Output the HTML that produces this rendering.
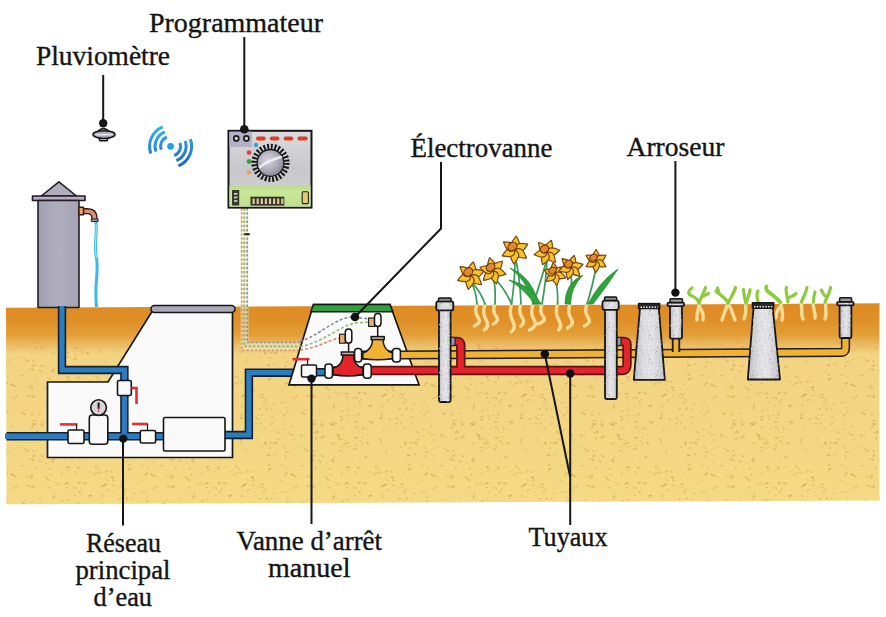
<!DOCTYPE html>
<html><head><meta charset="utf-8">
<style>
html,body{margin:0;padding:0;background:#fff;width:886px;height:617px;overflow:hidden}
svg{display:block}
text{font-family:"Liberation Serif",serif;fill:#141414;stroke:#141414;stroke-width:0.35px}
</style></head><body>
<svg width="886" height="617" viewBox="0 0 886 617">
<defs>
<linearGradient id="gnd" x1="0" y1="305" x2="0" y2="502" gradientUnits="userSpaceOnUse">
<stop offset="0" stop-color="#df8a22"/>
<stop offset="0.08" stop-color="#e09028"/>
<stop offset="0.15" stop-color="#e39e36"/>
<stop offset="0.2" stop-color="#eaba62"/>
<stop offset="0.25" stop-color="#f2d482"/>
<stop offset="1" stop-color="#f5d985"/>
</linearGradient>
<pattern id="speck" width="140" height="90" patternUnits="userSpaceOnUse"><path d="M63.3,50.4 l-1.9,1.2" stroke="#e0bc64" stroke-width="1.4" stroke-linecap="round" opacity="0.79"/><ellipse cx="86.0" cy="16.8" rx="1.41" ry="0.92" fill="#e0bc64" opacity="0.49"/><path d="M5.9,88.4 l-2.1,-1.9" stroke="#e0bc64" stroke-width="1.4" stroke-linecap="round" opacity="0.70"/><path d="M8.3,17.1 l-1.0,0.4" stroke="#dcb85a" stroke-width="1.2" stroke-linecap="round" opacity="0.76"/><path d="M32.7,26.5 l-1.3,2.0" stroke="#d8b050" stroke-width="1.8" stroke-linecap="round" opacity="0.63"/><path d="M117.6,63.7 l-2.8,0.3" stroke="#d4aa4c" stroke-width="1.1" stroke-linecap="round" opacity="0.66"/><path d="M15.1,26.2 l-3.0,-1.2" stroke="#d8b050" stroke-width="1.7" stroke-linecap="round" opacity="0.79"/><ellipse cx="65.8" cy="88.2" rx="0.80" ry="0.90" fill="#e0bc64" opacity="0.68"/><path d="M47.2,28.0 l-2.3,-1.0" stroke="#d8b050" stroke-width="1.1" stroke-linecap="round" opacity="0.75"/><path d="M8.4,71.7 l0.1,1.9" stroke="#dcb85a" stroke-width="1.6" stroke-linecap="round" opacity="0.53"/><ellipse cx="58.7" cy="34.5" rx="0.87" ry="1.08" fill="#e0bc64" opacity="0.54"/><ellipse cx="112.5" cy="27.4" rx="1.45" ry="0.89" fill="#d8b050" opacity="0.61"/><ellipse cx="14.0" cy="89.0" rx="1.21" ry="1.00" fill="#dcb85a" opacity="0.45"/><path d="M54.1,6.7 l0.6,-0.5" stroke="#dcb85a" stroke-width="1.4" stroke-linecap="round" opacity="0.55"/><ellipse cx="134.3" cy="43.5" rx="1.23" ry="0.69" fill="#d6a84e" opacity="0.60"/><ellipse cx="32.0" cy="54.9" rx="1.15" ry="0.91" fill="#dcb85a" opacity="0.70"/><ellipse cx="54.3" cy="43.4" rx="0.64" ry="1.08" fill="#d8b050" opacity="0.49"/><ellipse cx="33.4" cy="63.4" rx="1.09" ry="0.81" fill="#d4aa4c" opacity="0.81"/><ellipse cx="130.1" cy="87.9" rx="1.45" ry="0.87" fill="#dcb85a" opacity="0.67"/><path d="M39.2,82.6 l-0.5,-1.0" stroke="#dcb85a" stroke-width="1.0" stroke-linecap="round" opacity="0.48"/><ellipse cx="39.5" cy="47.8" rx="1.05" ry="0.70" fill="#dcb85a" opacity="0.51"/><path d="M102.6,47.0 l-0.2,-0.6" stroke="#dcb85a" stroke-width="1.2" stroke-linecap="round" opacity="0.82"/><path d="M4.7,53.9 l-1.1,2.0" stroke="#d8b050" stroke-width="1.1" stroke-linecap="round" opacity="0.74"/><path d="M76.5,66.3 l-0.9,0.7" stroke="#dcb85a" stroke-width="1.7" stroke-linecap="round" opacity="0.82"/><path d="M122.0,37.5 l0.7,-0.5" stroke="#d8b050" stroke-width="1.5" stroke-linecap="round" opacity="0.68"/><path d="M85.2,7.2 l1.4,-0.4" stroke="#d8b050" stroke-width="1.6" stroke-linecap="round" opacity="0.80"/><ellipse cx="81.3" cy="39.6" rx="0.63" ry="0.86" fill="#d6a84e" opacity="0.75"/><path d="M67.3,20.7 l2.5,-1.0" stroke="#d8b050" stroke-width="1.0" stroke-linecap="round" opacity="0.70"/><path d="M42.1,61.0 l-0.9,1.7" stroke="#dcb85a" stroke-width="1.4" stroke-linecap="round" opacity="0.75"/><ellipse cx="33.8" cy="36.4" rx="1.41" ry="1.05" fill="#d4aa4c" opacity="0.62"/><path d="M123.2,34.6 l-2.2,-0.6" stroke="#d6a84e" stroke-width="1.7" stroke-linecap="round" opacity="0.53"/><path d="M5.7,5.8 l-0.2,1.7" stroke="#d4aa4c" stroke-width="1.7" stroke-linecap="round" opacity="0.50"/><path d="M53.6,46.8 l0.7,-0.7" stroke="#d4aa4c" stroke-width="1.7" stroke-linecap="round" opacity="0.79"/><path d="M38.9,54.7 l1.7,-1.9" stroke="#d4aa4c" stroke-width="1.1" stroke-linecap="round" opacity="0.57"/><ellipse cx="63.7" cy="2.2" rx="0.65" ry="0.88" fill="#d4aa4c" opacity="0.51"/><path d="M62.5,56.7 l-1.8,-0.1" stroke="#d4aa4c" stroke-width="1.1" stroke-linecap="round" opacity="0.72"/><ellipse cx="1.5" cy="42.5" rx="0.95" ry="0.92" fill="#d8b050" opacity="0.56"/><ellipse cx="72.9" cy="55.3" rx="1.51" ry="0.55" fill="#dcb85a" opacity="0.77"/><path d="M130.6,65.0 l2.3,-2.0" stroke="#dcb85a" stroke-width="1.4" stroke-linecap="round" opacity="0.53"/><path d="M91.4,45.2 l-1.8,0.9" stroke="#d4aa4c" stroke-width="1.7" stroke-linecap="round" opacity="0.71"/><ellipse cx="89.8" cy="64.6" rx="0.69" ry="0.69" fill="#dcb85a" opacity="0.61"/><path d="M136.7,83.9 l-0.9,-1.7" stroke="#d4aa4c" stroke-width="1.4" stroke-linecap="round" opacity="0.79"/><path d="M77.0,69.1 l2.2,-0.3" stroke="#e0bc64" stroke-width="1.0" stroke-linecap="round" opacity="0.54"/><path d="M74.6,61.8 l2.4,0.1" stroke="#dcb85a" stroke-width="1.5" stroke-linecap="round" opacity="0.85"/><path d="M61.6,79.2 l-1.7,0.1" stroke="#d6a84e" stroke-width="1.2" stroke-linecap="round" opacity="0.48"/><path d="M102.0,57.5 l-1.5,0.7" stroke="#d6a84e" stroke-width="1.8" stroke-linecap="round" opacity="0.81"/><path d="M121.8,54.8 l0.1,0.3" stroke="#d4aa4c" stroke-width="1.2" stroke-linecap="round" opacity="0.84"/><ellipse cx="75.0" cy="45.3" rx="0.64" ry="1.05" fill="#d6a84e" opacity="0.67"/><path d="M76.2,89.0 l-2.6,0.2" stroke="#d8b050" stroke-width="1.3" stroke-linecap="round" opacity="0.73"/><ellipse cx="134.0" cy="83.1" rx="0.94" ry="1.04" fill="#d4aa4c" opacity="0.65"/><ellipse cx="131.0" cy="82.8" rx="1.22" ry="1.06" fill="#d6a84e" opacity="0.53"/><ellipse cx="18.1" cy="70.1" rx="0.61" ry="0.67" fill="#d8b050" opacity="0.51"/><ellipse cx="101.3" cy="22.0" rx="0.72" ry="0.81" fill="#e0bc64" opacity="0.74"/><path d="M35.1,17.8 l0.8,1.3" stroke="#d6a84e" stroke-width="1.5" stroke-linecap="round" opacity="0.46"/><path d="M75.3,77.7 l2.1,0.4" stroke="#d6a84e" stroke-width="1.7" stroke-linecap="round" opacity="0.66"/><path d="M32.6,66.7 l-1.1,1.7" stroke="#d4aa4c" stroke-width="1.2" stroke-linecap="round" opacity="0.58"/><path d="M139.8,79.9 l-2.5,-0.4" stroke="#dcb85a" stroke-width="1.3" stroke-linecap="round" opacity="0.50"/><ellipse cx="131.8" cy="48.9" rx="1.40" ry="0.56" fill="#dcb85a" opacity="0.70"/><ellipse cx="79.8" cy="32.2" rx="1.36" ry="0.80" fill="#d4aa4c" opacity="0.65"/><path d="M96.0,17.0 l1.6,0.5" stroke="#d8b050" stroke-width="1.7" stroke-linecap="round" opacity="0.46"/><ellipse cx="67.4" cy="17.1" rx="1.59" ry="1.06" fill="#d8b050" opacity="0.79"/><ellipse cx="13.3" cy="5.6" rx="0.99" ry="0.76" fill="#e0bc64" opacity="0.49"/><ellipse cx="49.6" cy="18.9" rx="1.44" ry="0.61" fill="#d4aa4c" opacity="0.73"/><path d="M63.6,66.5 l-2.4,1.2" stroke="#e0bc64" stroke-width="1.3" stroke-linecap="round" opacity="0.69"/><path d="M11.9,75.8 l0.5,-0.6" stroke="#e0bc64" stroke-width="1.6" stroke-linecap="round" opacity="0.53"/><path d="M39.1,10.5 l2.4,1.5" stroke="#dcb85a" stroke-width="1.6" stroke-linecap="round" opacity="0.61"/><ellipse cx="107.4" cy="68.9" rx="1.40" ry="0.68" fill="#e0bc64" opacity="0.52"/><ellipse cx="14.1" cy="79.9" rx="1.56" ry="0.68" fill="#d6a84e" opacity="0.56"/><path d="M30.2,36.6 l3.0,0.6" stroke="#dcb85a" stroke-width="1.6" stroke-linecap="round" opacity="0.61"/><ellipse cx="106.6" cy="88.2" rx="0.84" ry="0.77" fill="#d8b050" opacity="0.49"/><ellipse cx="70.7" cy="68.5" rx="0.88" ry="0.70" fill="#e0bc64" opacity="0.55"/><path d="M75.7,37.4 l0.8,1.2" stroke="#d6a84e" stroke-width="1.1" stroke-linecap="round" opacity="0.85"/><ellipse cx="83.7" cy="68.3" rx="0.99" ry="1.08" fill="#d8b050" opacity="0.83"/><ellipse cx="119.8" cy="48.8" rx="1.02" ry="0.82" fill="#d6a84e" opacity="0.83"/><path d="M83.7,32.9 l2.6,0.7" stroke="#d4aa4c" stroke-width="1.6" stroke-linecap="round" opacity="0.56"/><ellipse cx="3.8" cy="69.5" rx="1.35" ry="0.73" fill="#d6a84e" opacity="0.51"/><path d="M125.7,67.4 l-1.1,1.2" stroke="#d8b050" stroke-width="1.2" stroke-linecap="round" opacity="0.74"/><ellipse cx="100.7" cy="22.6" rx="1.41" ry="1.05" fill="#dcb85a" opacity="0.49"/><path d="M20.2,86.4 l0.7,-0.2" stroke="#dcb85a" stroke-width="1.2" stroke-linecap="round" opacity="0.50"/><ellipse cx="7.3" cy="47.5" rx="1.02" ry="0.86" fill="#d8b050" opacity="0.51"/><path d="M89.5,61.4 l3.0,1.8" stroke="#d4aa4c" stroke-width="1.6" stroke-linecap="round" opacity="0.66"/><path d="M33.4,10.2 l-0.8,-0.9" stroke="#d4aa4c" stroke-width="1.5" stroke-linecap="round" opacity="0.70"/><path d="M79.1,53.3 l-1.5,1.9" stroke="#d4aa4c" stroke-width="1.7" stroke-linecap="round" opacity="0.53"/><ellipse cx="123.0" cy="3.6" rx="0.63" ry="0.52" fill="#d8b050" opacity="0.55"/><path d="M31.2,25.0 l-1.6,1.9" stroke="#d8b050" stroke-width="1.4" stroke-linecap="round" opacity="0.51"/><path d="M49.6,30.4 l-2.6,-1.5" stroke="#e0bc64" stroke-width="1.6" stroke-linecap="round" opacity="0.79"/><ellipse cx="87.3" cy="69.2" rx="0.99" ry="0.59" fill="#dcb85a" opacity="0.75"/><ellipse cx="21.5" cy="75.3" rx="1.35" ry="1.05" fill="#d6a84e" opacity="0.67"/><path d="M59.9,33.2 l0.3,-0.3" stroke="#d8b050" stroke-width="1.5" stroke-linecap="round" opacity="0.58"/><ellipse cx="114.1" cy="41.7" rx="1.26" ry="0.55" fill="#d8b050" opacity="0.54"/><ellipse cx="42.5" cy="65.2" rx="0.96" ry="0.94" fill="#d4aa4c" opacity="0.51"/><path d="M51.3,10.6 l2.6,1.7" stroke="#e0bc64" stroke-width="1.4" stroke-linecap="round" opacity="0.82"/><ellipse cx="112.4" cy="27.4" rx="1.33" ry="0.81" fill="#d4aa4c" opacity="0.84"/><ellipse cx="11.8" cy="74.6" rx="0.99" ry="0.62" fill="#d8b050" opacity="0.61"/><ellipse cx="78.9" cy="71.7" rx="0.78" ry="0.55" fill="#d6a84e" opacity="0.69"/><ellipse cx="63.6" cy="76.9" rx="0.76" ry="0.68" fill="#d8b050" opacity="0.47"/><ellipse cx="3.1" cy="75.8" rx="1.39" ry="0.55" fill="#e0bc64" opacity="0.67"/><ellipse cx="11.4" cy="66.3" rx="0.74" ry="0.95" fill="#d4aa4c" opacity="0.70"/><path d="M90.9,22.1 l-1.0,-0.2" stroke="#dcb85a" stroke-width="1.3" stroke-linecap="round" opacity="0.81"/><path d="M113.0,30.0 l1.3,0.8" stroke="#dcb85a" stroke-width="1.7" stroke-linecap="round" opacity="0.66"/><path d="M57.5,74.4 l2.0,1.6" stroke="#d4aa4c" stroke-width="1.8" stroke-linecap="round" opacity="0.77"/><path d="M89.6,47.1 l-0.5,-1.4" stroke="#d8b050" stroke-width="1.6" stroke-linecap="round" opacity="0.62"/><ellipse cx="138.7" cy="33.8" rx="1.13" ry="0.66" fill="#dcb85a" opacity="0.61"/><ellipse cx="124.1" cy="42.4" rx="1.52" ry="1.05" fill="#d8b050" opacity="0.51"/><path d="M105.4,1.5 l-2.3,-1.3" stroke="#e0bc64" stroke-width="1.2" stroke-linecap="round" opacity="0.46"/><path d="M33.0,64.6 l2.4,-0.4" stroke="#d6a84e" stroke-width="1.7" stroke-linecap="round" opacity="0.63"/><path d="M131.2,56.4 l2.3,1.7" stroke="#d6a84e" stroke-width="1.3" stroke-linecap="round" opacity="0.55"/><path d="M76.6,86.1 l-1.7,-1.5" stroke="#e0bc64" stroke-width="1.6" stroke-linecap="round" opacity="0.61"/><path d="M136.6,71.5 l2.5,1.6" stroke="#d4aa4c" stroke-width="1.7" stroke-linecap="round" opacity="0.47"/><path d="M126.7,40.5 l-2.1,-1.4" stroke="#dcb85a" stroke-width="1.3" stroke-linecap="round" opacity="0.69"/><ellipse cx="36.3" cy="78.2" rx="1.22" ry="0.81" fill="#d6a84e" opacity="0.75"/><ellipse cx="7.4" cy="51.5" rx="1.45" ry="0.99" fill="#dcb85a" opacity="0.78"/><ellipse cx="11.5" cy="24.3" rx="1.07" ry="1.07" fill="#d6a84e" opacity="0.64"/><ellipse cx="82.1" cy="77.2" rx="0.79" ry="0.91" fill="#d4aa4c" opacity="0.53"/><path d="M109.4,39.6 l-2.1,1.3" stroke="#d8b050" stroke-width="1.2" stroke-linecap="round" opacity="0.66"/><path d="M43.5,6.8 l-2.6,-1.7" stroke="#d4aa4c" stroke-width="1.1" stroke-linecap="round" opacity="0.72"/><path d="M93.5,60.8 l-0.7,0.8" stroke="#d8b050" stroke-width="1.2" stroke-linecap="round" opacity="0.45"/><path d="M79.0,41.2 l1.3,1.6" stroke="#d8b050" stroke-width="1.1" stroke-linecap="round" opacity="0.79"/><path d="M87.9,84.4 l0.3,-1.7" stroke="#d4aa4c" stroke-width="1.2" stroke-linecap="round" opacity="0.75"/><path d="M52.7,9.9 l1.3,-0.7" stroke="#d4aa4c" stroke-width="1.7" stroke-linecap="round" opacity="0.68"/><ellipse cx="12.9" cy="12.7" rx="0.78" ry="0.62" fill="#d8b050" opacity="0.70"/><ellipse cx="5.1" cy="41.7" rx="1.59" ry="0.76" fill="#d8b050" opacity="0.46"/><path d="M108.0,30.7 l-1.8,-1.4" stroke="#e0bc64" stroke-width="1.6" stroke-linecap="round" opacity="0.51"/><ellipse cx="67.6" cy="82.9" rx="1.30" ry="1.09" fill="#d6a84e" opacity="0.61"/><path d="M110.6,59.4 l-1.9,-0.8" stroke="#d6a84e" stroke-width="1.4" stroke-linecap="round" opacity="0.55"/><path d="M78.0,18.4 l0.7,-1.4" stroke="#d4aa4c" stroke-width="1.6" stroke-linecap="round" opacity="0.78"/><path d="M126.4,49.3 l0.4,-1.2" stroke="#d4aa4c" stroke-width="1.7" stroke-linecap="round" opacity="0.66"/><path d="M139.8,63.6 l1.0,1.1" stroke="#dcb85a" stroke-width="1.1" stroke-linecap="round" opacity="0.46"/><ellipse cx="66.9" cy="37.6" rx="0.96" ry="0.78" fill="#d4aa4c" opacity="0.82"/><ellipse cx="17.4" cy="87.6" rx="1.15" ry="0.54" fill="#dcb85a" opacity="0.68"/><path d="M128.1,15.2 l1.9,-0.8" stroke="#d4aa4c" stroke-width="1.7" stroke-linecap="round" opacity="0.50"/><ellipse cx="33.7" cy="51.6" rx="0.68" ry="0.52" fill="#dcb85a" opacity="0.67"/><ellipse cx="25.2" cy="88.8" rx="1.34" ry="0.73" fill="#dcb85a" opacity="0.72"/><ellipse cx="82.9" cy="72.3" rx="0.63" ry="0.82" fill="#d8b050" opacity="0.61"/><path d="M16.6,36.5 l0.4,-0.7" stroke="#d4aa4c" stroke-width="1.5" stroke-linecap="round" opacity="0.56"/><ellipse cx="5.3" cy="60.4" rx="0.70" ry="0.71" fill="#dcb85a" opacity="0.65"/><path d="M125.5,82.2 l-0.1,2.0" stroke="#d6a84e" stroke-width="1.7" stroke-linecap="round" opacity="0.75"/><ellipse cx="119.7" cy="36.8" rx="1.54" ry="0.70" fill="#e0bc64" opacity="0.50"/><ellipse cx="72.9" cy="37.8" rx="1.33" ry="1.04" fill="#d8b050" opacity="0.47"/><path d="M102.5,53.8 l-1.5,1.4" stroke="#d4aa4c" stroke-width="1.2" stroke-linecap="round" opacity="0.80"/><path d="M122.2,87.5 l-1.6,-0.8" stroke="#e0bc64" stroke-width="1.3" stroke-linecap="round" opacity="0.66"/><path d="M33.0,6.2 l1.8,-1.1" stroke="#d4aa4c" stroke-width="1.6" stroke-linecap="round" opacity="0.62"/><path d="M79.4,81.3 l2.3,0.3" stroke="#d8b050" stroke-width="1.4" stroke-linecap="round" opacity="0.50"/><ellipse cx="41.5" cy="65.5" rx="1.50" ry="0.99" fill="#d8b050" opacity="0.48"/><ellipse cx="55.6" cy="32.1" rx="1.05" ry="0.69" fill="#d6a84e" opacity="0.57"/><path d="M45.4,12.9 l2.2,0.8" stroke="#e0bc64" stroke-width="1.0" stroke-linecap="round" opacity="0.53"/><ellipse cx="44.2" cy="77.3" rx="1.30" ry="0.84" fill="#e0bc64" opacity="0.70"/><path d="M74.6,21.3 l1.9,1.8" stroke="#d8b050" stroke-width="1.2" stroke-linecap="round" opacity="0.57"/><path d="M58.9,79.1 l-0.3,-1.7" stroke="#d4aa4c" stroke-width="1.2" stroke-linecap="round" opacity="0.83"/><ellipse cx="43.0" cy="63.9" rx="1.10" ry="0.68" fill="#dcb85a" opacity="0.74"/><path d="M38.3,72.3 l-1.6,-0.8" stroke="#d6a84e" stroke-width="1.7" stroke-linecap="round" opacity="0.69"/><path d="M93.4,24.9 l2.5,-1.7" stroke="#d8b050" stroke-width="1.7" stroke-linecap="round" opacity="0.48"/><ellipse cx="1.0" cy="52.8" rx="0.69" ry="0.67" fill="#d6a84e" opacity="0.77"/><path d="M105.8,22.1 l1.7,-1.4" stroke="#d4aa4c" stroke-width="1.7" stroke-linecap="round" opacity="0.46"/><ellipse cx="87.1" cy="82.5" rx="1.10" ry="0.61" fill="#d6a84e" opacity="0.82"/><ellipse cx="77.8" cy="58.0" rx="0.63" ry="0.67" fill="#d4aa4c" opacity="0.64"/><path d="M115.8,57.1 l0.6,1.1" stroke="#d6a84e" stroke-width="1.1" stroke-linecap="round" opacity="0.66"/><path d="M61.0,60.2 l1.7,-1.1" stroke="#d6a84e" stroke-width="1.4" stroke-linecap="round" opacity="0.76"/><ellipse cx="31.0" cy="52.2" rx="1.57" ry="0.53" fill="#e0bc64" opacity="0.53"/><ellipse cx="62.8" cy="79.3" rx="1.10" ry="0.76" fill="#d4aa4c" opacity="0.46"/><ellipse cx="61.8" cy="23.7" rx="1.17" ry="0.83" fill="#d8b050" opacity="0.81"/><ellipse cx="110.8" cy="21.4" rx="1.30" ry="0.99" fill="#dcb85a" opacity="0.62"/><path d="M103.4,70.3 l0.1,-0.5" stroke="#d6a84e" stroke-width="1.2" stroke-linecap="round" opacity="0.71"/><path d="M69.6,59.3 l-0.5,-0.5" stroke="#d6a84e" stroke-width="1.2" stroke-linecap="round" opacity="0.47"/><path d="M135.9,3.8 l-2.2,1.0" stroke="#e0bc64" stroke-width="1.4" stroke-linecap="round" opacity="0.69"/><path d="M138.0,0.3 l-0.6,-0.8" stroke="#e0bc64" stroke-width="1.3" stroke-linecap="round" opacity="0.51"/><ellipse cx="10.7" cy="3.1" rx="1.15" ry="0.65" fill="#d6a84e" opacity="0.55"/><ellipse cx="64.6" cy="83.9" rx="1.52" ry="0.63" fill="#d4aa4c" opacity="0.83"/><path d="M22.5,52.7 l2.5,1.5" stroke="#d8b050" stroke-width="1.7" stroke-linecap="round" opacity="0.68"/><ellipse cx="24.8" cy="77.4" rx="0.82" ry="0.71" fill="#dcb85a" opacity="0.76"/><path d="M25.7,49.5 l0.6,1.0" stroke="#dcb85a" stroke-width="1.4" stroke-linecap="round" opacity="0.61"/><path d="M68.6,56.4 l-0.7,-1.7" stroke="#dcb85a" stroke-width="1.6" stroke-linecap="round" opacity="0.53"/><path d="M50.8,24.7 l0.1,0.3" stroke="#d8b050" stroke-width="1.5" stroke-linecap="round" opacity="0.75"/><ellipse cx="30.5" cy="9.3" rx="0.96" ry="0.96" fill="#d8b050" opacity="0.82"/><path d="M101.3,81.6 l-0.3,1.4" stroke="#d8b050" stroke-width="1.3" stroke-linecap="round" opacity="0.79"/><ellipse cx="35.9" cy="79.1" rx="1.09" ry="0.61" fill="#d8b050" opacity="0.69"/><ellipse cx="71.9" cy="11.5" rx="1.14" ry="0.58" fill="#dcb85a" opacity="0.62"/><path d="M98.9,23.4 l-1.8,-0.9" stroke="#e0bc64" stroke-width="1.6" stroke-linecap="round" opacity="0.51"/><ellipse cx="56.7" cy="34.8" rx="0.94" ry="0.63" fill="#d4aa4c" opacity="0.57"/><path d="M5.7,2.2 l2.9,-0.8" stroke="#e0bc64" stroke-width="1.5" stroke-linecap="round" opacity="0.77"/><path d="M128.7,19.5 l2.2,-1.1" stroke="#d4aa4c" stroke-width="1.5" stroke-linecap="round" opacity="0.83"/><path d="M12.6,38.5 l2.6,-0.9" stroke="#e0bc64" stroke-width="1.6" stroke-linecap="round" opacity="0.65"/><path d="M31.0,83.3 l1.0,-1.0" stroke="#dcb85a" stroke-width="1.1" stroke-linecap="round" opacity="0.52"/><path d="M47.9,38.0 l2.1,-0.8" stroke="#dcb85a" stroke-width="1.7" stroke-linecap="round" opacity="0.55"/><path d="M126.4,10.8 l-0.7,1.4" stroke="#d8b050" stroke-width="1.2" stroke-linecap="round" opacity="0.56"/><ellipse cx="100.7" cy="79.7" rx="1.49" ry="0.84" fill="#d8b050" opacity="0.59"/><path d="M36.7,60.1 l-1.0,1.6" stroke="#dcb85a" stroke-width="1.0" stroke-linecap="round" opacity="0.60"/><path d="M99.0,19.5 l-0.5,-0.3" stroke="#d8b050" stroke-width="1.2" stroke-linecap="round" opacity="0.70"/><path d="M116.1,79.2 l1.8,0.7" stroke="#e0bc64" stroke-width="1.2" stroke-linecap="round" opacity="0.60"/><ellipse cx="69.3" cy="42.6" rx="0.83" ry="0.91" fill="#d8b050" opacity="0.53"/><path d="M32.8,0.1 l0.3,1.4" stroke="#d6a84e" stroke-width="1.6" stroke-linecap="round" opacity="0.45"/><ellipse cx="11.1" cy="74.1" rx="0.62" ry="0.98" fill="#d4aa4c" opacity="0.49"/><path d="M29.1,35.7 l-2.0,0.5" stroke="#dcb85a" stroke-width="1.4" stroke-linecap="round" opacity="0.78"/><ellipse cx="78.9" cy="33.3" rx="1.10" ry="0.89" fill="#d4aa4c" opacity="0.72"/><path d="M50.7,63.6 l2.9,1.3" stroke="#d6a84e" stroke-width="1.7" stroke-linecap="round" opacity="0.80"/><path d="M43.4,76.4 l-2.0,1.5" stroke="#d6a84e" stroke-width="1.7" stroke-linecap="round" opacity="0.64"/><path d="M7.5,22.9 l-1.5,0.5" stroke="#d6a84e" stroke-width="1.3" stroke-linecap="round" opacity="0.73"/><path d="M95.6,16.5 l0.4,-0.3" stroke="#dcb85a" stroke-width="1.6" stroke-linecap="round" opacity="0.78"/><ellipse cx="87.2" cy="74.8" rx="1.27" ry="0.64" fill="#dcb85a" opacity="0.60"/><path d="M25.9,1.2 l2.6,-0.9" stroke="#d6a84e" stroke-width="1.2" stroke-linecap="round" opacity="0.77"/><path d="M35.3,59.9 l-2.7,0.9" stroke="#e0bc64" stroke-width="1.1" stroke-linecap="round" opacity="0.85"/><path d="M5.9,25.7 l-1.0,-1.9" stroke="#d6a84e" stroke-width="1.4" stroke-linecap="round" opacity="0.50"/><ellipse cx="67.6" cy="33.6" rx="1.25" ry="0.63" fill="#d4aa4c" opacity="0.80"/><path d="M101.1,36.7 l1.2,0.2" stroke="#dcb85a" stroke-width="1.6" stroke-linecap="round" opacity="0.61"/><path d="M20.6,15.8 l2.3,-0.3" stroke="#d8b050" stroke-width="1.1" stroke-linecap="round" opacity="0.81"/><ellipse cx="123.8" cy="24.3" rx="0.87" ry="0.64" fill="#d6a84e" opacity="0.70"/><path d="M67.5,32.9 l-3.0,1.0" stroke="#d4aa4c" stroke-width="1.5" stroke-linecap="round" opacity="0.51"/><path d="M0.6,30.3 l2.2,-0.1" stroke="#dcb85a" stroke-width="1.3" stroke-linecap="round" opacity="0.53"/><ellipse cx="113.0" cy="35.6" rx="1.43" ry="0.65" fill="#d8b050" opacity="0.70"/><path d="M26.4,26.2 l2.0,0.9" stroke="#dcb85a" stroke-width="1.1" stroke-linecap="round" opacity="0.63"/><path d="M3.7,15.2 l-2.9,0.2" stroke="#d8b050" stroke-width="1.1" stroke-linecap="round" opacity="0.56"/><path d="M65.2,79.8 l0.2,1.2" stroke="#d8b050" stroke-width="1.6" stroke-linecap="round" opacity="0.45"/><path d="M103.0,35.9 l2.9,-1.6" stroke="#d6a84e" stroke-width="1.8" stroke-linecap="round" opacity="0.76"/><path d="M56.3,63.5 l-2.9,-1.4" stroke="#d4aa4c" stroke-width="1.3" stroke-linecap="round" opacity="0.70"/><path d="M101.4,45.6 l0.8,-0.6" stroke="#d4aa4c" stroke-width="1.2" stroke-linecap="round" opacity="0.60"/><ellipse cx="126.7" cy="28.9" rx="0.78" ry="0.53" fill="#d8b050" opacity="0.54"/><ellipse cx="18.3" cy="27.4" rx="0.74" ry="0.71" fill="#dcb85a" opacity="0.49"/><ellipse cx="60.3" cy="0.8" rx="1.55" ry="1.00" fill="#d6a84e" opacity="0.49"/><ellipse cx="106.6" cy="1.9" rx="0.71" ry="1.09" fill="#dcb85a" opacity="0.75"/><path d="M60.2,86.6 l2.3,1.3" stroke="#dcb85a" stroke-width="1.1" stroke-linecap="round" opacity="0.76"/><path d="M54.6,82.9 l-2.9,0.9" stroke="#dcb85a" stroke-width="1.5" stroke-linecap="round" opacity="0.66"/><path d="M127.5,5.0 l2.1,0.5" stroke="#d6a84e" stroke-width="1.4" stroke-linecap="round" opacity="0.81"/><ellipse cx="79.5" cy="10.3" rx="1.44" ry="0.80" fill="#e0bc64" opacity="0.64"/><path d="M52.6,48.7 l0.8,-0.2" stroke="#d8b050" stroke-width="1.5" stroke-linecap="round" opacity="0.46"/><path d="M83.2,83.8 l-1.5,0.5" stroke="#dcb85a" stroke-width="1.2" stroke-linecap="round" opacity="0.58"/><path d="M65.7,49.7 l2.9,-0.0" stroke="#d8b050" stroke-width="1.2" stroke-linecap="round" opacity="0.50"/><path d="M117.6,58.4 l0.1,2.0" stroke="#dcb85a" stroke-width="1.1" stroke-linecap="round" opacity="0.77"/><path d="M121.8,64.0 l-1.8,-1.9" stroke="#d4aa4c" stroke-width="1.3" stroke-linecap="round" opacity="0.59"/><ellipse cx="68.5" cy="86.6" rx="1.39" ry="0.79" fill="#dcb85a" opacity="0.67"/><path d="M33.9,72.0 l2.4,1.2" stroke="#d8b050" stroke-width="1.1" stroke-linecap="round" opacity="0.67"/></pattern>
<linearGradient id="metal" x1="0" y1="0" x2="1" y2="0">
<stop offset="0" stop-color="#bcbcc4"/>
<stop offset="0.35" stop-color="#dedee2"/>
<stop offset="0.6" stop-color="#e4e4e8"/>
<stop offset="1" stop-color="#c0c0c8"/>
</linearGradient>
<linearGradient id="tower" x1="0" y1="0" x2="1" y2="0">
<stop offset="0" stop-color="#a09eb0"/>
<stop offset="0.5" stop-color="#b0aebe"/>
<stop offset="1" stop-color="#a4a2b4"/>
</linearGradient>
<radialGradient id="knob" cx="0.4" cy="0.4" r="0.7">
<stop offset="0" stop-color="#d8d6e0"/>
<stop offset="0.6" stop-color="#a8a6b4"/>
<stop offset="1" stop-color="#807e8c"/>
</radialGradient>
<linearGradient id="face" x1="0" y1="0" x2="0" y2="1">
<stop offset="0" stop-color="#dcdce0"/>
<stop offset="0.5" stop-color="#c8c8cc"/>
<stop offset="1" stop-color="#d4d4d6"/>
</linearGradient>
<pattern id="mspeck" width="24" height="24" patternUnits="userSpaceOnUse"><rect x="14.9" y="17.8" width="0.6" height="0.9" fill="#a0a0a8" opacity="0.7"/><rect x="22.6" y="15.6" width="0.7" height="0.9" fill="#9a9aa4" opacity="0.7"/><rect x="5.9" y="13.1" width="0.8" height="1.1" fill="#a0a0a8" opacity="0.7"/><rect x="9.8" y="4.4" width="0.7" height="1.2" fill="#f4f4f8" opacity="0.7"/><rect x="3.3" y="14.8" width="0.7" height="1.3" fill="#9a9aa4" opacity="0.7"/><rect x="0.1" y="18.6" width="1.2" height="0.8" fill="#9a9aa4" opacity="0.7"/><rect x="23.1" y="12.9" width="0.7" height="1.3" fill="#9a9aa4" opacity="0.7"/><rect x="4.7" y="23.2" width="0.8" height="0.9" fill="#f4f4f8" opacity="0.7"/><rect x="4.0" y="3.5" width="0.8" height="1.2" fill="#8c8c94" opacity="0.7"/><rect x="14.1" y="14.3" width="0.6" height="0.8" fill="#ffffff" opacity="0.7"/><rect x="7.3" y="16.7" width="0.9" height="1.1" fill="#9a9aa4" opacity="0.7"/><rect x="1.4" y="23.4" width="1.3" height="0.9" fill="#8c8c94" opacity="0.7"/><rect x="9.7" y="13.2" width="0.9" height="1.0" fill="#f4f4f8" opacity="0.7"/><rect x="0.2" y="1.1" width="1.0" height="1.3" fill="#9a9aa4" opacity="0.7"/><rect x="2.9" y="5.9" width="0.8" height="0.8" fill="#f4f4f8" opacity="0.7"/><rect x="12.6" y="18.6" width="1.0" height="1.1" fill="#8c8c94" opacity="0.7"/><rect x="8.8" y="7.1" width="1.3" height="0.7" fill="#f4f4f8" opacity="0.7"/><rect x="8.2" y="14.7" width="0.8" height="1.2" fill="#9a9aa4" opacity="0.7"/><rect x="13.1" y="7.5" width="0.8" height="1.2" fill="#ffffff" opacity="0.7"/><rect x="15.0" y="17.3" width="1.3" height="0.7" fill="#ffffff" opacity="0.7"/><rect x="1.2" y="23.7" width="1.2" height="0.6" fill="#a0a0a8" opacity="0.7"/><rect x="17.8" y="8.3" width="0.9" height="0.9" fill="#ffffff" opacity="0.7"/><rect x="1.3" y="22.0" width="1.2" height="0.8" fill="#8c8c94" opacity="0.7"/><rect x="5.0" y="23.6" width="1.3" height="1.0" fill="#a0a0a8" opacity="0.7"/><rect x="18.9" y="2.6" width="0.9" height="0.6" fill="#f4f4f8" opacity="0.7"/><rect x="10.1" y="3.4" width="1.2" height="1.3" fill="#a0a0a8" opacity="0.7"/><rect x="10.9" y="11.7" width="0.9" height="0.8" fill="#ffffff" opacity="0.7"/><rect x="9.7" y="3.5" width="1.2" height="1.0" fill="#f4f4f8" opacity="0.7"/><rect x="4.3" y="22.5" width="0.7" height="0.9" fill="#ffffff" opacity="0.7"/><rect x="12.4" y="13.2" width="0.9" height="1.2" fill="#a0a0a8" opacity="0.7"/><rect x="18.6" y="16.7" width="1.1" height="0.9" fill="#8c8c94" opacity="0.7"/><rect x="16.9" y="6.7" width="0.8" height="1.3" fill="#f4f4f8" opacity="0.7"/><rect x="17.2" y="23.0" width="1.1" height="1.0" fill="#ffffff" opacity="0.7"/><rect x="0.3" y="13.1" width="0.8" height="0.8" fill="#ffffff" opacity="0.7"/><rect x="6.9" y="12.0" width="0.8" height="1.1" fill="#ffffff" opacity="0.7"/><rect x="17.7" y="19.9" width="1.2" height="0.7" fill="#ffffff" opacity="0.7"/><rect x="20.8" y="10.8" width="1.3" height="1.0" fill="#ffffff" opacity="0.7"/><rect x="12.7" y="4.0" width="1.3" height="0.9" fill="#ffffff" opacity="0.7"/><rect x="16.6" y="17.3" width="0.7" height="1.1" fill="#f4f4f8" opacity="0.7"/><rect x="13.9" y="16.0" width="0.8" height="1.0" fill="#f4f4f8" opacity="0.7"/><rect x="20.8" y="6.5" width="0.7" height="1.0" fill="#8c8c94" opacity="0.7"/><rect x="15.0" y="4.3" width="1.0" height="0.6" fill="#9a9aa4" opacity="0.7"/><rect x="11.3" y="5.4" width="1.2" height="0.7" fill="#8c8c94" opacity="0.7"/><rect x="23.2" y="11.6" width="0.6" height="0.9" fill="#a0a0a8" opacity="0.7"/><rect x="9.1" y="14.7" width="0.7" height="1.1" fill="#a0a0a8" opacity="0.7"/><rect x="9.0" y="8.4" width="1.2" height="1.2" fill="#ffffff" opacity="0.7"/><rect x="16.5" y="13.1" width="1.0" height="0.8" fill="#8c8c94" opacity="0.7"/><rect x="7.1" y="12.3" width="0.8" height="0.8" fill="#a0a0a8" opacity="0.7"/><rect x="3.1" y="9.8" width="1.0" height="0.9" fill="#a0a0a8" opacity="0.7"/><rect x="3.4" y="14.3" width="0.9" height="0.7" fill="#a0a0a8" opacity="0.7"/><rect x="3.2" y="2.2" width="0.9" height="0.8" fill="#8c8c94" opacity="0.7"/><rect x="22.0" y="12.9" width="1.0" height="1.2" fill="#ffffff" opacity="0.7"/><rect x="9.0" y="10.4" width="0.9" height="0.9" fill="#9a9aa4" opacity="0.7"/><rect x="17.0" y="9.2" width="1.0" height="0.8" fill="#9a9aa4" opacity="0.7"/><rect x="23.5" y="11.9" width="0.6" height="1.3" fill="#f4f4f8" opacity="0.7"/><rect x="7.4" y="22.3" width="0.9" height="0.7" fill="#9a9aa4" opacity="0.7"/><rect x="14.9" y="10.6" width="0.6" height="0.7" fill="#ffffff" opacity="0.7"/><rect x="9.4" y="11.5" width="0.8" height="1.3" fill="#a0a0a8" opacity="0.7"/><rect x="18.8" y="5.9" width="1.2" height="1.1" fill="#ffffff" opacity="0.7"/><rect x="6.9" y="11.8" width="1.0" height="1.2" fill="#f4f4f8" opacity="0.7"/></pattern>
<linearGradient id="wifig" x1="0" y1="126" x2="0" y2="167" gradientUnits="userSpaceOnUse">
<stop offset="0" stop-color="#30b4ea"/>
<stop offset="0.5" stop-color="#2a8edc"/>
<stop offset="1" stop-color="#1c62c6"/>
</linearGradient>
<linearGradient id="pcb" x1="0" y1="0" x2="0" y2="1">
<stop offset="0" stop-color="#bcd890"/>
<stop offset="0.3" stop-color="#c8e898"/>
<stop offset="1" stop-color="#c0e090"/>
</linearGradient>
</defs>

<!-- GROUND -->
<polygon points="6,307.8 879.5,303.3 879.5,500.5 6.5,504.3" fill="url(#gnd)"/>
<polygon points="6,340 879.5,340 879.5,500.5 6.5,504.3" fill="url(#speck)"/>

<!-- TOWER -->
<g stroke="#1e1e24" stroke-width="1.6" stroke-linejoin="round">
<polygon points="58.9,181.8 41.3,196 76.5,196" fill="#b0aebe"/>
<rect x="32.5" y="196" width="52.5" height="4.5" fill="#bcaac6"/>
<rect x="38" y="200.5" width="41" height="107" fill="url(#tower)"/>
<path d="M83.5,208.8 L87.5,208.8 Q97,208.8 97,218.5 L97,220.5 L92,220.5 L92,218.5 Q92,213.6 87.5,213.6 L83.5,213.6 Z" fill="#d99478" stroke="#3a1a10" stroke-width="1.4"/>
<rect x="79" y="207.3" width="4.5" height="7.5" fill="#eaa95c" stroke="#3a1a10" stroke-width="1.4"/>
<rect x="91.3" y="219" width="6.8" height="2.6" fill="#999" stroke="#222" stroke-width="1"/>
</g>
<path d="M96,222 C97.5,236 93.5,246 96.5,258 C99,271 94,284 96.5,307" fill="none" stroke="#3cb8e6" stroke-width="3"/>
<path d="M96,224 C97,236 94,246 96.5,258" fill="none" stroke="#c8f0ff" stroke-width="0.9"/>

<!-- RAIN GAUGE -->
<line x1="103.2" y1="75" x2="103.2" y2="121" stroke="#161616" stroke-width="2"/>
<circle cx="103.2" cy="123.3" r="4.2" fill="#161616"/>
<g stroke="#161616" stroke-width="1.6">
<path d="M97.5,132 Q103.5,125 109.5,132 Z" fill="#b8b6c4"/>
<path d="M99,138 L108,138 L107,140.8 L100,140.8 Z" fill="#c8c6d0"/>
<ellipse cx="104" cy="134.6" rx="11" ry="3.9" fill="#a8a6b8"/>
</g>
<line x1="95.5" y1="134.6" x2="112.5" y2="134.6" stroke="#e4e2ec" stroke-width="1.8"/>

<!-- WIFI -->
<g fill="none" stroke="url(#wifig)" stroke-width="3" stroke-linecap="butt">
<path d="M161.2,149.7 A10,10 0 0 1 166.85,137"/>
<path d="M156.03,151.6 A15.5,15.5 0 0 1 164.79,131.93"/>
<path d="M150.87,153.48 A21,21 0 0 1 162.73,126.83"/>
<path d="M180,142.88 A10,10 0 0 1 174.35,155.57"/>
<path d="M185.17,141 A15.5,15.5 0 0 1 176.41,160.67"/>
<path d="M190.33,139.12 A21,21 0 0 1 178.47,165.77"/>
</g>
<circle cx="170.6" cy="146.3" r="3.4" fill="#22a0e8"/>

<!-- PROGRAMMER CABLE -->
<path d="M244.5,208 L244.5,346.5 L300,346.5" fill="none" stroke="#f0ecc8" stroke-width="8" opacity="0.6"/>
<g fill="none" stroke-width="1.7" stroke-dasharray="2.4 1.8">
<path d="M247.2,208 L247.2,342.5 L300,342.5" stroke="#8890a8"/>
<path d="M244.3,208 L244.3,346.4 L300,346.4" stroke="#90b070"/>
<path d="M241.7,208 L241.7,350.3 L300,350.3" stroke="#d89870"/>
</g>
<line x1="244.3" y1="234.2" x2="249.8" y2="234.2" stroke="#111" stroke-width="1.8"/>

<!-- PROGRAMMER -->
<line x1="244.3" y1="37" x2="244.3" y2="129" stroke="#161616" stroke-width="2"/>
<g>
<rect x="228.5" y="130.8" width="83" height="76.8" fill="url(#face)" stroke="#161616" stroke-width="2"/>
<rect x="229.4" y="185.6" width="81.2" height="21.1" fill="url(#pcb)"/>
<rect x="229.4" y="131.7" width="22.5" height="15.3" fill="#b4b0c8"/>
<circle cx="236.3" cy="138.4" r="2.5" fill="#d8d8e0" stroke="#1a1a1a" stroke-width="1.7"/>
<circle cx="246.4" cy="138.4" r="2.5" fill="#d8d8e0" stroke="#1a1a1a" stroke-width="1.7"/>
<g fill="#e43a22"><rect x="256" y="136.4" width="9.6" height="4.1" rx="2"/><rect x="269.8" y="136.4" width="9.6" height="4.1" rx="2"/><rect x="283.6" y="136.4" width="9.6" height="4.1" rx="2"/><rect x="297.4" y="136.4" width="10.3" height="4.1" rx="2"/></g>
<circle cx="256" cy="145" r="2.2" fill="#3aa0d8"/>
<circle cx="249.1" cy="152.6" r="2.4" fill="#e04040"/>
<circle cx="249.1" cy="161.5" r="2.4" fill="#30a040"/>
<circle cx="249.1" cy="172.5" r="2.3" fill="#e8a060"/>
<circle cx="270.5" cy="162.9" r="16.3" fill="none" stroke="#161616" stroke-width="5.6" stroke-dasharray="1.9 1.75"/>
<circle cx="270.5" cy="162.9" r="13.4" fill="url(#knob)" stroke="#161616" stroke-width="1.3"/>
<path d="M260,167 Q269,160 281,157" stroke="#f4f4f8" stroke-width="2.6" fill="none" stroke-linecap="round" opacity="0.85"/>
<rect x="232.6" y="190.5" width="6.2" height="14.5" fill="#3a3a30" stroke="#222" stroke-width="0.8"/>
<g fill="#d8e0b0"><rect x="234" y="193" width="3.4" height="1.6"/><rect x="234" y="196.6" width="3.4" height="1.6"/><rect x="234" y="200.2" width="3.4" height="1.6"/></g>
<rect x="250.5" y="196.7" width="33.8" height="8.9" fill="#3a3028"/>
<g fill="#d8cca0"><rect x="252.5" y="198.5" width="2.2" height="5.5"/><rect x="256.6" y="198.5" width="2.2" height="5.5"/><rect x="260.7" y="198.5" width="2.2" height="5.5"/><rect x="264.8" y="198.5" width="2.2" height="5.5"/><rect x="268.9" y="198.5" width="2.2" height="5.5"/><rect x="273" y="198.5" width="2.2" height="5.5"/><rect x="277.1" y="198.5" width="2.2" height="5.5"/><rect x="281.2" y="198.5" width="2.2" height="5.5"/></g>
<rect x="302.2" y="191.8" width="6.2" height="11.8" rx="1" fill="#e8c870" stroke="#222" stroke-width="1.1"/>
</g>
<circle cx="244.3" cy="129.3" r="4.3" fill="#161616"/>

<!-- PLANTS -->
<g fill="none" stroke="#f7dc98" stroke-width="3.4" stroke-linecap="round">
<path d="M477,304 Q474,311.7 478,317.2 T474.4,326"/>
<path d="M485,304 Q482,313.1 486,319.6 T484.3,330"/>
<path d="M495,304 Q492,311.0 496,316.0 T493.2,324"/>
<path d="M511.6,304 Q508.6,313.8 512.6,320.8 T511.2,332"/>
<path d="M521,304 Q518,311.7 522,317.2 T520.8,326"/>
<path d="M533,304 Q530,313.1 534,319.6 T529.4,330"/>
<path d="M542,304 Q539,311.0 543,316.0 T538.1,324"/>
<path d="M557.6,304 Q554.6,313.1 558.6,319.6 T558.6,330"/>
<path d="M570,304 Q567,312.4 571,318.4 T567.6,328"/>
<path d="M587,304 Q584,311.7 588,317.2 T584.4,326"/>
<path d="M699,303 C700,308 696,312 697,320"/>
<path d="M699,306 C702,310 704,314 703,320"/>
<path d="M728,303 C726,309 724,313 722,320"/>
<path d="M729,305 C732,310 733,315 735,320"/>
<path d="M746,303 C745,309 747,313 744,319"/>
<path d="M781,303 C781,309 784,313 782,320"/>
<path d="M781,306 C777,310 776,314 776,318"/>
<path d="M801,303 C803,309 800,313 803,319"/>
<path d="M813,303 C813,309 816,313 815,318"/>
<path d="M826,303 C824,308 828,312 825,319"/>
</g>
<g fill="none" stroke="#3a9a58" stroke-width="1.7" stroke-linecap="round">
<path d="M470.8,281.6 Q475.9,289.8 477,304"/>
<path d="M470.8,281.6 Q479.9,289.8 485,304"/>
<path d="M493,276.8 Q496.0,287.4 495,304"/>
<path d="M493,276.8 Q504.3,287.4 511.6,304"/>
<path d="M515,256 Q520.0,277.0 521,304"/>
<path d="M515,256 Q515.3,277.0 511.6,304"/>
<path d="M547,258.5 Q542.0,278.25 533,304"/>
<path d="M547,258.5 Q546.5,278.25 542,304"/>
<path d="M555,280 Q558.3,289.0 557.6,304"/>
<path d="M571,273.5 Q572.5,285.75 570,304"/>
<path d="M596,267 Q593.5,282.5 587,304"/>
</g>
<g fill="#2ea43a" stroke="#218a30" stroke-width="0.8">
<path d="M533,304 Q527,280 510,268 Q531,276 539,304 Z"/>
<path d="M535,304 Q522,287 509,280 Q531,285 541,304 Z"/>
<path d="M565,304 Q565,283 583,275 Q571,287 570,304 Z"/>
<path d="M588,304 Q600,281 618,269 Q607,286 593,304 Z"/>
</g>
<g fill="#f4c42e" stroke="#7a4010" stroke-width="1.2" stroke-linejoin="round">
<path transform="translate(470.8,275.6) rotate(10)" d="M0,0 C7.0,-2.8 3.9,-8.4 0,-14 C-3.9,-8.4 -7.0,-2.8 0,0 Z"/>
<path transform="translate(470.8,275.6) rotate(70)" d="M0,0 C7.0,-2.8 3.9,-8.4 0,-14 C-3.9,-8.4 -7.0,-2.8 0,0 Z"/>
<path transform="translate(470.8,275.6) rotate(130)" d="M0,0 C7.0,-2.8 3.9,-8.4 0,-14 C-3.9,-8.4 -7.0,-2.8 0,0 Z"/>
<path transform="translate(470.8,275.6) rotate(190)" d="M0,0 C7.0,-2.8 3.9,-8.4 0,-14 C-3.9,-8.4 -7.0,-2.8 0,0 Z"/>
<path transform="translate(470.8,275.6) rotate(250)" d="M0,0 C7.0,-2.8 3.9,-8.4 0,-14 C-3.9,-8.4 -7.0,-2.8 0,0 Z"/>
<path transform="translate(470.8,275.6) rotate(310)" d="M0,0 C7.0,-2.8 3.9,-8.4 0,-14 C-3.9,-8.4 -7.0,-2.8 0,0 Z"/>
<path transform="translate(493,270.8) rotate(-15)" d="M0,0 C6.8,-2.7 3.7,-8.1 0,-13.5 C-3.7,-8.1 -6.8,-2.7 0,0 Z"/>
<path transform="translate(493,270.8) rotate(45)" d="M0,0 C6.8,-2.7 3.7,-8.1 0,-13.5 C-3.7,-8.1 -6.8,-2.7 0,0 Z"/>
<path transform="translate(493,270.8) rotate(105)" d="M0,0 C6.8,-2.7 3.7,-8.1 0,-13.5 C-3.7,-8.1 -6.8,-2.7 0,0 Z"/>
<path transform="translate(493,270.8) rotate(165)" d="M0,0 C6.8,-2.7 3.7,-8.1 0,-13.5 C-3.7,-8.1 -6.8,-2.7 0,0 Z"/>
<path transform="translate(493,270.8) rotate(225)" d="M0,0 C6.8,-2.7 3.7,-8.1 0,-13.5 C-3.7,-8.1 -6.8,-2.7 0,0 Z"/>
<path transform="translate(493,270.8) rotate(285)" d="M0,0 C6.8,-2.7 3.7,-8.1 0,-13.5 C-3.7,-8.1 -6.8,-2.7 0,0 Z"/>
<path transform="translate(515,250) rotate(5)" d="M0,0 C7.0,-2.8 3.9,-8.4 0,-14 C-3.9,-8.4 -7.0,-2.8 0,0 Z"/>
<path transform="translate(515,250) rotate(65)" d="M0,0 C7.0,-2.8 3.9,-8.4 0,-14 C-3.9,-8.4 -7.0,-2.8 0,0 Z"/>
<path transform="translate(515,250) rotate(125)" d="M0,0 C7.0,-2.8 3.9,-8.4 0,-14 C-3.9,-8.4 -7.0,-2.8 0,0 Z"/>
<path transform="translate(515,250) rotate(185)" d="M0,0 C7.0,-2.8 3.9,-8.4 0,-14 C-3.9,-8.4 -7.0,-2.8 0,0 Z"/>
<path transform="translate(515,250) rotate(245)" d="M0,0 C7.0,-2.8 3.9,-8.4 0,-14 C-3.9,-8.4 -7.0,-2.8 0,0 Z"/>
<path transform="translate(515,250) rotate(305)" d="M0,0 C7.0,-2.8 3.9,-8.4 0,-14 C-3.9,-8.4 -7.0,-2.8 0,0 Z"/>
<path transform="translate(547,252.5) rotate(20)" d="M0,0 C6.5,-2.6 3.6,-7.8 0,-13 C-3.6,-7.8 -6.5,-2.6 0,0 Z"/>
<path transform="translate(547,252.5) rotate(80)" d="M0,0 C6.5,-2.6 3.6,-7.8 0,-13 C-3.6,-7.8 -6.5,-2.6 0,0 Z"/>
<path transform="translate(547,252.5) rotate(140)" d="M0,0 C6.5,-2.6 3.6,-7.8 0,-13 C-3.6,-7.8 -6.5,-2.6 0,0 Z"/>
<path transform="translate(547,252.5) rotate(200)" d="M0,0 C6.5,-2.6 3.6,-7.8 0,-13 C-3.6,-7.8 -6.5,-2.6 0,0 Z"/>
<path transform="translate(547,252.5) rotate(260)" d="M0,0 C6.5,-2.6 3.6,-7.8 0,-13 C-3.6,-7.8 -6.5,-2.6 0,0 Z"/>
<path transform="translate(547,252.5) rotate(320)" d="M0,0 C6.5,-2.6 3.6,-7.8 0,-13 C-3.6,-7.8 -6.5,-2.6 0,0 Z"/>
<path transform="translate(555,274) rotate(-10)" d="M0,0 C5.8,-2.3 3.2,-6.9 0,-11.5 C-3.2,-6.9 -5.8,-2.3 0,0 Z"/>
<path transform="translate(555,274) rotate(50)" d="M0,0 C5.8,-2.3 3.2,-6.9 0,-11.5 C-3.2,-6.9 -5.8,-2.3 0,0 Z"/>
<path transform="translate(555,274) rotate(110)" d="M0,0 C5.8,-2.3 3.2,-6.9 0,-11.5 C-3.2,-6.9 -5.8,-2.3 0,0 Z"/>
<path transform="translate(555,274) rotate(170)" d="M0,0 C5.8,-2.3 3.2,-6.9 0,-11.5 C-3.2,-6.9 -5.8,-2.3 0,0 Z"/>
<path transform="translate(555,274) rotate(230)" d="M0,0 C5.8,-2.3 3.2,-6.9 0,-11.5 C-3.2,-6.9 -5.8,-2.3 0,0 Z"/>
<path transform="translate(555,274) rotate(290)" d="M0,0 C5.8,-2.3 3.2,-6.9 0,-11.5 C-3.2,-6.9 -5.8,-2.3 0,0 Z"/>
<path transform="translate(571,267.5) rotate(15)" d="M0,0 C6.2,-2.5 3.4,-7.5 0,-12.5 C-3.4,-7.5 -6.2,-2.5 0,0 Z"/>
<path transform="translate(571,267.5) rotate(75)" d="M0,0 C6.2,-2.5 3.4,-7.5 0,-12.5 C-3.4,-7.5 -6.2,-2.5 0,0 Z"/>
<path transform="translate(571,267.5) rotate(135)" d="M0,0 C6.2,-2.5 3.4,-7.5 0,-12.5 C-3.4,-7.5 -6.2,-2.5 0,0 Z"/>
<path transform="translate(571,267.5) rotate(195)" d="M0,0 C6.2,-2.5 3.4,-7.5 0,-12.5 C-3.4,-7.5 -6.2,-2.5 0,0 Z"/>
<path transform="translate(571,267.5) rotate(255)" d="M0,0 C6.2,-2.5 3.4,-7.5 0,-12.5 C-3.4,-7.5 -6.2,-2.5 0,0 Z"/>
<path transform="translate(571,267.5) rotate(315)" d="M0,0 C6.2,-2.5 3.4,-7.5 0,-12.5 C-3.4,-7.5 -6.2,-2.5 0,0 Z"/>
<path transform="translate(596,261) rotate(0)" d="M0,0 C5.8,-2.3 3.2,-6.9 0,-11.5 C-3.2,-6.9 -5.8,-2.3 0,0 Z"/>
<path transform="translate(596,261) rotate(60)" d="M0,0 C5.8,-2.3 3.2,-6.9 0,-11.5 C-3.2,-6.9 -5.8,-2.3 0,0 Z"/>
<path transform="translate(596,261) rotate(120)" d="M0,0 C5.8,-2.3 3.2,-6.9 0,-11.5 C-3.2,-6.9 -5.8,-2.3 0,0 Z"/>
<path transform="translate(596,261) rotate(180)" d="M0,0 C5.8,-2.3 3.2,-6.9 0,-11.5 C-3.2,-6.9 -5.8,-2.3 0,0 Z"/>
<path transform="translate(596,261) rotate(240)" d="M0,0 C5.8,-2.3 3.2,-6.9 0,-11.5 C-3.2,-6.9 -5.8,-2.3 0,0 Z"/>
<path transform="translate(596,261) rotate(300)" d="M0,0 C5.8,-2.3 3.2,-6.9 0,-11.5 C-3.2,-6.9 -5.8,-2.3 0,0 Z"/>
</g>
<g fill="#e0882a" stroke="#6a3010" stroke-width="1.1">
<ellipse cx="468.3" cy="272.1" rx="4.8" ry="3.9" transform="rotate(-35 468.3 272.1)"/>
<ellipse cx="490.5" cy="267.3" rx="4.6" ry="3.8" transform="rotate(-35 490.5 267.3)"/>
<ellipse cx="512.5" cy="246.5" rx="4.8" ry="3.9" transform="rotate(-35 512.5 246.5)"/>
<ellipse cx="544.5" cy="249.0" rx="4.4" ry="3.6" transform="rotate(-35 544.5 249.0)"/>
<ellipse cx="552.5" cy="270.5" rx="3.9" ry="3.2" transform="rotate(-35 552.5 270.5)"/>
<ellipse cx="568.5" cy="264.0" rx="4.2" ry="3.5" transform="rotate(-35 568.5 264.0)"/>
<ellipse cx="593.5" cy="257.5" rx="3.9" ry="3.2" transform="rotate(-35 593.5 257.5)"/>
</g>
<g fill="none" stroke="#8ccb3c" stroke-width="3.2" stroke-linecap="round" stroke-linejoin="round">
<path d="M699,303 C698,298 694,297 690,295 C687.5,293 689,290 692,288"/>
<path d="M699,303 C701,297 704,293 705.5,287.5"/>
<path d="M703.5,296 L708.5,293.5"/>
<path d="M728,303 C726,298 720,295 716,291"/>
<path d="M728,303 C731,297 734,293 735.5,287.5"/>
<path d="M719,293 L717.5,288"/>
<path d="M746,303 C744,298 744,293 743.5,289.5"/>
<path d="M746,303 C748,297 750,293 750,289.5"/>
<path d="M758,302 C757,298 756,294 758,291"/>
<path d="M780,302 C776,297 771,294 767.5,291 C765.5,289 766,287 766.5,286.5" stroke-width="3.8"/>
<path d="M788,302 C787.5,296 785,291 786.5,287.5"/>
<path d="M788.5,298 C791,296 794,296 796,293.5"/>
<path d="M801.5,302 C803,297 806,293 807,287.5"/>
<path d="M813.5,302 C813.5,298 814,295 815,292"/>
<path d="M825,302 C827,297 830,292 830.5,287.5"/>
<path d="M826.5,297 C824,295 822,293 821.5,290"/>
</g>

<!-- CHAMBER 1 -->
<polygon points="152,311.5 232.5,311.5 232.5,457.5 47.5,457.5 47.5,382 108,382" fill="#fafafa" stroke="#161616" stroke-width="1.7" stroke-linejoin="miter"/>
<rect x="151" y="305.5" width="84" height="7" rx="3.5" fill="#aca8ba" stroke="#161616" stroke-width="1.5"/>

<!-- BLUE PIPES -->
<g fill="none" stroke-linejoin="miter">
<path d="M62,306 L62,370 L124.4,370 L124.4,436" stroke="#15202c" stroke-width="8.4"/>
<path d="M6.5,436.3 L165,436.3" stroke="#15202c" stroke-width="8.6"/>
<path d="M224,435 L248.9,435 L248.9,372.7 L302,372.7" stroke="#15202c" stroke-width="8.4"/>
<path d="M62,306 L62,370 L124.4,370 L124.4,436" stroke="#2b7dbf" stroke-width="5.2"/>
<path d="M5,436.3 L165,436.3" stroke="#2b7dbf" stroke-width="5.4"/>
<path d="M224,435 L248.9,435 L248.9,372.7 L302,372.7" stroke="#2b7dbf" stroke-width="5.2"/>
</g>

<!-- VALVES / METER / FILTER -->
<g stroke="#161616" stroke-width="1.6" fill="#fafafa">
<rect x="117.5" y="380.5" width="13.8" height="15" rx="1.5"/>
<rect x="68" y="430" width="16" height="13.5" rx="1.5"/>
<rect x="140.3" y="430.5" width="15.3" height="12.5" rx="1.5"/>
<rect x="89.3" y="415" width="18.5" height="29.3" rx="3"/>
<circle cx="98.6" cy="407.6" r="7.8" fill="#d8d4d8"/>
<rect x="163.5" y="417.5" width="61.5" height="33.5" rx="1.5"/>
</g>
<line x1="98.6" y1="402.5" x2="98.6" y2="409" stroke="#161616" stroke-width="2"/>
<line x1="98.6" y1="407.5" x2="98.6" y2="412" stroke="#d04040" stroke-width="1"/>
<g fill="none" stroke="#e23030" stroke-width="2.6">
<path d="M131.5,388 L136.5,388 L136.5,404"/>
<path d="M60,424.4 L77.5,424.4"/>
<path d="M132,424 L148,424"/>
</g>
<g stroke="#161616" stroke-width="1.2" fill="none">
<path d="M76.5,424.5 L76.5,430"/>
<path d="M147.5,424 L147.5,430.5"/>
</g>
<circle cx="123.3" cy="438.6" r="4.2" fill="#111"/>
<line x1="123" y1="438" x2="123" y2="525.5" stroke="#161616" stroke-width="2"/>

<!-- CHAMBER 2 (valve box) -->
<polygon points="313.5,304.5 390,304.5 419,384.8 289,384.8" fill="#fafafa" stroke="#161616" stroke-width="1.7"/>
<polygon points="313.5,304.5 390,304.5 392.8,311.8 310.8,311.8" fill="#2fa040" stroke="#161616" stroke-width="1.4"/>

<!-- YELLOW + RED PIPES (outside) -->
<g fill="none" stroke-linejoin="round">
<path d="M398,355 L841.5,352.3 Q845.5,352.3 845.5,348 L845.5,336" stroke="#1e1a14" stroke-width="9.2"/>
<path d="M398,355 L841.5,352.3 Q845.5,352.3 845.5,348 L845.5,336" stroke="#f0b232" stroke-width="6.2"/>
<path d="M676,352 L676,336" stroke="#1e1a14" stroke-width="8.4"/>
<path d="M676,354 L676,336" stroke="#f0b232" stroke-width="4.8"/>
<path d="M368,370.5 L622,370.5 Q627,370.5 627,365 L627,344 Q627,341.5 624,341.5 L612,341.5" stroke="#5a1212" stroke-width="9.4"/>
<path d="M450,341.5 L457,341.5 Q460.8,341.5 460.8,345 L460.8,370" stroke="#5a1212" stroke-width="9.4"/>
<path d="M368,370.5 L622,370.5 Q627,370.5 627,365 L627,344 Q627,341.5 624,341.5 L612,341.5" stroke="#e1252a" stroke-width="6"/>
<path d="M450,341.5 L457,341.5 Q460.8,341.5 460.8,345 L460.8,372" stroke="#e1252a" stroke-width="6"/>
</g>
<rect x="450" y="337.5" width="5" height="8" rx="1.5" fill="#9a9aa2" stroke="#161616" stroke-width="1"/>
<rect x="616" y="337.5" width="5" height="8" rx="1.5" fill="#9a9aa2" stroke="#161616" stroke-width="1"/>

<!-- POSTS / CONES / SPRINKLERS -->
<g stroke="#161616" stroke-width="1.8" fill="url(#metal)" stroke-linejoin="round"><g id="mshapes">
<rect x="439" y="309" width="11.6" height="93" rx="1.5"/>
<rect x="436.3" y="301.4" width="17" height="9" rx="2"/>
<rect x="605" y="309" width="11.8" height="90" rx="1.5"/>
<rect x="602.5" y="300.6" width="16.2" height="9.2" rx="2"/>
<polygon points="640,308 658.8,308 664.8,379.8 633.8,379.8"/>
<polygon points="753.5,308 772.7,308 780,379.5 747.8,379.5"/>
<rect x="670" y="305.5" width="12" height="33.2" rx="1.5"/>
<rect x="667.5" y="302.6" width="16.5" height="3.6" rx="1.2"/>
<rect x="839.6" y="305" width="11.8" height="33" rx="1.5"/>
<rect x="837.2" y="301.8" width="16.4" height="3.6" rx="1.2"/>
</g></g>
<use href="#mshapes" fill="url(#mspeck)" stroke="none"/>
<g stroke="#161616" stroke-width="1.5">
<rect x="438.5" y="298" width="12.6" height="3.6" rx="1" fill="#8a8a92"/>
<rect x="604.5" y="297" width="12.2" height="3.6" rx="1" fill="#8a8a92"/>
<rect x="670" y="298.8" width="12.5" height="3.8" rx="1" fill="#9a9aa2"/>
<rect x="839.6" y="297.8" width="12" height="4" rx="1" fill="#9a9aa2"/>
<rect x="638.6" y="303.6" width="21" height="4.9" fill="#2a2a2e"/>
<rect x="752.5" y="302.8" width="21.2" height="5" fill="#2a2a2e"/>
</g>
<path d="M640.5,307.3 L658,307.3 M754,306.7 L772.5,306.7" stroke="#e8e8ea" stroke-width="1.4" stroke-dasharray="1.5 1.3"/>

<!-- VALVE BOX INTERIOR -->
<g fill="none" stroke-width="1.5" stroke-dasharray="3 2">
<path d="M300,341 C318,337 334,318 352,317 L370,319" stroke="#7d86a8"/>
<path d="M300,346.5 C322,343 338,327 355,323 L369,322" stroke="#88b868"/>
<path d="M300,350 C318,348 328,340 340,338" stroke="#e07a60"/>
</g>
<g fill="none" stroke-linejoin="miter">
<path d="M302,372.2 L326,372.2" stroke="#15202c" stroke-width="8.4"/>
<path d="M302,372.2 L326,372.2" stroke="#2b7dbf" stroke-width="5.2"/>
<path d="M330,371 L370,371" stroke="#5a1212" stroke-width="9.4"/>
<path d="M330,371 L370,371" stroke="#e1252a" stroke-width="6"/>
<path d="M358,355.2 L400,355" stroke="#1e1a14" stroke-width="9.2"/>
<path d="M358,355.2 L400,355" stroke="#f0b232" stroke-width="6.2"/>
</g>
<g stroke="#161616" stroke-width="1.5">
<path d="M343,354.5 L353.5,354.5 C353.5,362 356,366.5 363,368 L363,374.5 Q348,377.5 333,374.5 L333,368 C340,366.5 343,362 343,354.5 Z" fill="#e1252a"/>
<rect x="341.4" y="352" width="13" height="3" fill="#c8bca8"/>
<path d="M372.5,339 L383,339 C383,346 386,351 392.5,353 L392.5,358.5 Q377.5,361 362.8,358.5 L362.8,353 C369,351 372.5,346 372.5,339 Z" fill="#f0b232"/>
<rect x="371.2" y="336.6" width="13" height="3" fill="#c8bca8"/>
<line x1="348.6" y1="343" x2="348.6" y2="352"/>
<line x1="377.7" y1="326.4" x2="377.7" y2="336.6"/>
<rect x="339.5" y="334.2" width="5.8" height="9" fill="#e8b070" stroke-width="1.1"/>
<rect x="345.3" y="329" width="6.5" height="14.3" rx="3.2" fill="#fafafa"/>
<rect x="368.6" y="318" width="5.9" height="8.4" fill="#e8b070" stroke-width="1.1"/>
<rect x="374.5" y="313.4" width="6.5" height="13" rx="3.2" fill="#fafafa"/>
<rect x="325" y="364" width="7.4" height="14.3" rx="3" fill="#fafafa"/>
<rect x="363.4" y="364" width="7.8" height="14.3" rx="3" fill="#fafafa"/>
<rect x="354.6" y="348.4" width="7" height="13.6" rx="3" fill="#fafafa"/>
<rect x="392.6" y="348.4" width="7.8" height="13.6" rx="3" fill="#fafafa"/>
<rect x="301.5" y="365" width="15" height="12" rx="1.5" fill="#fafafa"/>
</g>
<path d="M292.5,359.2 L309.5,359.2" stroke="#e23030" stroke-width="2.6"/>
<path d="M307.5,359.5 L307.5,365" stroke="#161616" stroke-width="1.2"/>
<circle cx="311.5" cy="378.6" r="4.2" fill="#111"/>
<line x1="311.5" y1="378" x2="311.5" y2="524" stroke="#161616" stroke-width="2"/>

<!-- LEADERS -->
<g stroke="#161616" stroke-width="2" fill="none">
<path d="M441,162 L441,228.5 L355,317"/>
<path d="M675.4,161 L675.4,292"/>
<path d="M570.2,373.5 L570.2,525"/>
<path d="M544.8,354 L570.2,477"/>
</g>
<g fill="#111">
<circle cx="355" cy="317" r="4.3"/>
<circle cx="675.4" cy="292.6" r="4.2"/>
<circle cx="570.2" cy="373.5" r="4.3"/>
<circle cx="544.8" cy="354" r="4.3"/>
</g>

<!-- LABELS -->
<g font-size="26.5">
<text x="36" y="65" textLength="134" lengthAdjust="spacingAndGlyphs">Pluviomètre</text>
<text x="149" y="32.3" textLength="174" lengthAdjust="spacingAndGlyphs">Programmateur</text>
<text x="410.5" y="156.6" textLength="142" lengthAdjust="spacingAndGlyphs">Électrovanne</text>
<text x="626.5" y="156.3" textLength="98" lengthAdjust="spacingAndGlyphs">Arroseur</text>
<text x="86" y="551.8" textLength="75" lengthAdjust="spacingAndGlyphs">Réseau</text>
<text x="75.5" y="578.5" textLength="95" lengthAdjust="spacingAndGlyphs">principal</text>
<text x="93.5" y="605.8" textLength="58.5" lengthAdjust="spacingAndGlyphs">d’eau</text>
<text x="236.5" y="550.1" textLength="145.5" lengthAdjust="spacingAndGlyphs">Vanne d’arrêt</text>
<text x="268" y="577.2" textLength="82.5" lengthAdjust="spacingAndGlyphs">manuel</text>
<text x="528.5" y="546.2" textLength="79" lengthAdjust="spacingAndGlyphs">Tuyaux</text>
</g>

</svg>
</body></html>
